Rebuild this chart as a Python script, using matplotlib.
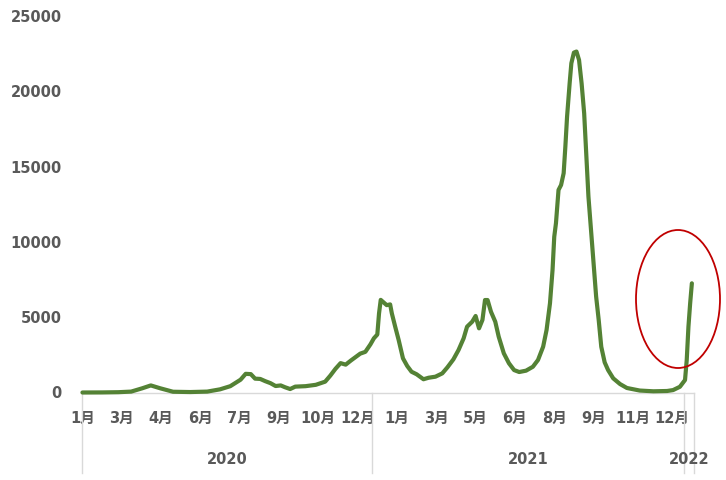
import pandas as pd
import matplotlib
matplotlib.use("Agg")
import matplotlib.pyplot as plt
import matplotlib.transforms as mtransforms
from matplotlib.patches import Ellipse

# ----- category axis: one category per day -----
CAT_START = "2020-01-28"
CAT_END = "2022-01-12"
LABEL_STEP = 46          # Excel shows every 46th category label

# ----- values (7-day average of new cases) -----
DATES = [
    "2020-01-28", "2020-02-20", "2020-03-10", "2020-03-25", "2020-04-07",
    "2020-04-17", "2020-04-28", "2020-05-13", "2020-06-02", "2020-06-22",
    "2020-07-07", "2020-07-19", "2020-07-31", "2020-08-06", "2020-08-12",
    "2020-08-17", "2020-08-23", "2020-08-29", "2020-09-04", "2020-09-10",
    "2020-09-16", "2020-09-21", "2020-09-27", "2020-10-03", "2020-10-15",
    "2020-10-27", "2020-11-07", "2020-11-13", "2020-11-19", "2020-11-25",
    "2020-12-01", "2020-12-07", "2020-12-18", "2020-12-24", "2020-12-30",
    "2021-01-03", "2021-01-07", "2021-01-09", "2021-01-11", "2021-01-14",
    "2021-01-18", "2021-01-22", "2021-01-24", "2021-01-28", "2021-02-01",
    "2021-02-06", "2021-02-11", "2021-02-16", "2021-02-22", "2021-03-02",
    "2021-03-08", "2021-03-16", "2021-03-24", "2021-03-30", "2021-04-06",
    "2021-04-12", "2021-04-18", "2021-04-22", "2021-04-28", "2021-05-02",
    "2021-05-06", "2021-05-10", "2021-05-13", "2021-05-16", "2021-05-20",
    "2021-05-25", "2021-05-29", "2021-06-04", "2021-06-10", "2021-06-16",
    "2021-06-22", "2021-06-30", "2021-07-08", "2021-07-14", "2021-07-20",
    "2021-07-24", "2021-07-28", "2021-07-31", "2021-08-02", "2021-08-04",
    "2021-08-07", "2021-08-10", "2021-08-13", "2021-08-15", "2021-08-17",
    "2021-08-20", "2021-08-22", "2021-08-25", "2021-08-28", "2021-08-31",
    "2021-09-03", "2021-09-06", "2021-09-09", "2021-09-11", "2021-09-14",
    "2021-09-17", "2021-09-20", "2021-09-23", "2021-09-26", "2021-09-30",
    "2021-10-04", "2021-10-10", "2021-10-18", "2021-10-26", "2021-11-10",
    "2021-11-26", "2021-12-12", "2021-12-19", "2021-12-27", "2022-01-02",
    "2022-01-04", "2022-01-06", "2022-01-08", "2022-01-10",
]
VALUES = [
    0, 5, 20, 60, 280,
    470, 280, 50, 30, 60,
    210, 420, 850, 1240, 1220,
    920, 900, 750, 620, 430,
    470, 350, 230, 390, 420,
    510, 720, 1120, 1570, 1950,
    1850, 2120, 2580, 2700, 3200,
    3600, 3850, 5250, 6150, 6000,
    5800, 5850, 5250, 4350, 3480,
    2270, 1760, 1380, 1210, 880,
    980, 1050, 1270, 1670, 2200,
    2820, 3600, 4370, 4700, 5080,
    4260, 4820, 6140, 6140, 5360,
    4700, 3710, 2600, 1940, 1490,
    1360, 1450, 1710, 2160, 3040,
    4150, 5920, 8130, 10340, 11240,
    13450, 13780, 14560, 16330, 18320,
    20530, 21860, 22570, 22640, 22080,
    20530, 18540, 15220, 13010, 10800,
    8590, 6370, 4820, 3040, 2000,
    1490, 940, 560, 300, 130,
    80, 100, 160, 380, 830,
    2160, 4370, 5920, 7250,
]
Y_TICKS = [0, 5000, 10000, 15000, 20000, 25000]
YEARS = [2020, 2021, 2022]

GREEN = "#548235"
TEXT = "#595959"
LINE = "#d9d9d9"
RED = "#c00000"

plt.rcParams["font.family"] = ["DejaVu Sans", "Noto Sans CJK JP"]

W, H = 726, 480
fig = plt.figure(figsize=(W / 100, H / 100), dpi=100)
ax = fig.add_axes([82 / W, 1 - 392.5 / H, 612 / W, 376.5 / H])

cats = pd.date_range(CAT_START, CAT_END, freq="D")
n = len(cats)
xs = [(pd.Timestamp(d) - cats[0]).days for d in DATES]

ax.plot(xs, VALUES, color=GREEN, lw=3, solid_joinstyle="round",
        solid_capstyle="round", zorder=3, clip_on=False)

ax.set_xlim(-0.5, n - 0.5)
ax.set_ylim(0, 25000)
ax.set_yticks(Y_TICKS)
ax.set_yticklabels([str(v) for v in Y_TICKS])
tick_idx = list(range(0, n, LABEL_STEP))
ax.set_xticks(tick_idx)
ax.set_xticklabels([f"{cats[i].month}月" for i in tick_idx])
ax.tick_params(axis="both", length=0, labelsize=10.5, labelcolor=TEXT)
ax.tick_params(axis="y", pad=14.4)
ax.tick_params(axis="x", pad=13)
for lab in ax.get_xticklabels() + ax.get_yticklabels():
    lab.set_fontweight("bold")

for side in ["top", "right", "left"]:
    ax.spines[side].set_visible(False)
ax.spines["bottom"].set_color(LINE)
ax.spines["bottom"].set_linewidth(1)

# ----- year groups under the month labels -----
trans = mtransforms.blended_transform_factory(ax.transData, ax.transAxes)
bounds = [-0.5]
for y in YEARS[1:]:
    bounds.append((pd.Timestamp(f"{y}-01-01") - cats[0]).days - 0.5)
bounds.append(n - 0.5)
for b in bounds:
    ax.plot([b, b], [0, -0.214], transform=trans, color=LINE, lw=1, clip_on=False)
for y, b0, b1 in zip(YEARS, bounds[:-1], bounds[1:]):
    ax.text((b0 + b1) / 2, -0.177, str(y), transform=trans, ha="center",
            va="center", fontsize=10.5, fontweight="bold", color=TEXT)

# ----- red circle around the latest rise -----
fig.patches.append(Ellipse((678 / W, 1 - 299 / H), 84 / W, 138 / H,
                           transform=fig.transFigure, fill=False,
                           edgecolor=RED, lw=1.3))

fig.savefig("out.png", dpi=100)
